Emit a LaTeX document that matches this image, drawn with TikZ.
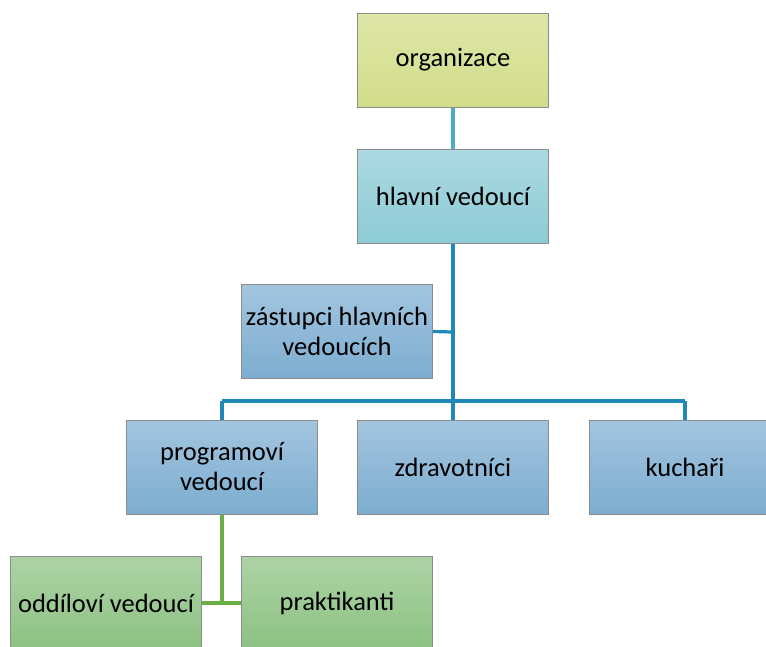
\documentclass[tikz,border=0pt]{standalone}
\usepackage{fontspec}
\setmainfont{Carlito}
\definecolor{ytop}{HTML}{DEE6A8}
\definecolor{ybot}{HTML}{D1DD89}
\definecolor{ctop}{HTML}{ABD9E2}
\definecolor{cbot}{HTML}{8DCBD5}
\definecolor{btop}{HTML}{A3C5DF}
\definecolor{bbot}{HTML}{7CADD0}
\definecolor{gtop}{HTML}{ADD3A5}
\definecolor{gbot}{HTML}{8CC182}
\definecolor{edge}{HTML}{8C8C8C}
\definecolor{lcyan}{HTML}{4BACC6}
\definecolor{lblue}{HTML}{1F88B8}
\definecolor{lgreen}{HTML}{6BAE45}
\tikzset{
  box/.style={draw=edge, line width=1pt, minimum width=191pt, minimum height=94pt,
    inner sep=0pt, align=center, text=black, font=\fontsize{26.5}{30}\selectfont},
  ybox/.style={box, top color=ytop, bottom color=ybot},
  cbox/.style={box, top color=ctop, bottom color=cbot},
  bbox/.style={box, top color=btop, bottom color=bbot},
  gbox/.style={box, top color=gtop, bottom color=gbot},
  cl/.style={draw=lcyan, line width=3.2pt},
  bl/.style={draw=lblue, line width=3.2pt},
  gl/.style={draw=lgreen, line width=3.2pt}
}
\begin{document}
\begin{tikzpicture}[x=1pt,y=-1pt]
\useasboundingbox (0,0) rectangle (766,646);
\clip (0,0) rectangle (766,646);
\fill[white] (0,0) rectangle (766,646);
\coordinate (busL) at (222,401);
\coordinate (busR) at (685,401);
\coordinate (zj) at (453,332);
\coordinate (gj) at (222,603);
\node[ybox] (org) at (453,60) {organizace};
\node[cbox] (hv) at (453,196) {hlavní vedoucí};
\node[bbox] (zas) at (337,331.5) {zástupci hlavních\\vedoucích};
\node[bbox] (prog) at (222,467) {programoví\\vedoucí};
\node[bbox] (zdr) at (453,467) {zdravotníci};
\node[bbox] (kuch) at (685,467) {kuchaři};
\node[gbox] (odd) at (106,603) {oddíloví vedoucí};
\node[gbox] (prak) at (337,603) {praktikanti};
\draw[cl] (org.south) -- (hv.north);
\draw[bl] (hv.south) -- (zdr.north);
\draw[bl] (zj) -- (zas.east);
\draw[bl] (busL) -- (busR);
\draw[bl] (busL) -- (prog.north);
\draw[bl] (busR) -- (kuch.north);
\draw[gl] (prog.south) -- (gj);
\draw[gl] (odd.east) -- (prak.west);
\end{tikzpicture}
\end{document}
